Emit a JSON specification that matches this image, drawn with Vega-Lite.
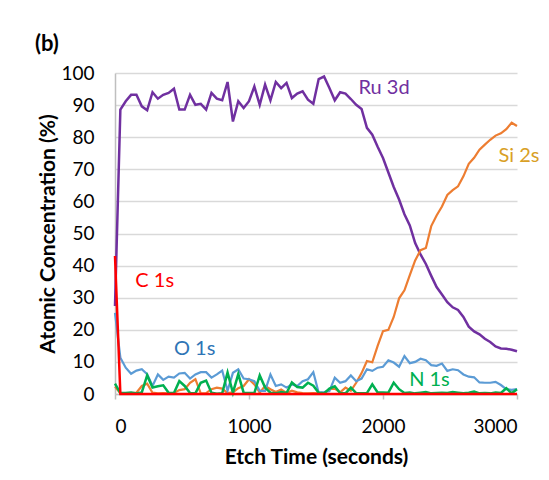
{
  "$schema": "https://vega.github.io/schema/vega-lite/v6.json",
  "autosize": "none",
  "width": 402,
  "height": 321,
  "padding": {"left": 115, "top": 73, "right": 32, "bottom": 86},
  "background": "white",
  "title": {"text": "(b)", "anchor": "start", "fontSize": 22, "fontWeight": "bold", "font": "Lato", "color": "#000000", "dx": -3, "offset": 8},
  "datasets": {
    "xps": [
      {"t":0,"ru":27.4,"si":2.3,"o":25.3,"n":3.2,"c":43},
      {"t":40,"ru":88.6,"si":0.2,"o":11.3,"n":0.3,"c":0},
      {"t":80,"ru":91.2,"si":0.1,"o":8.2,"n":0.3,"c":0},
      {"t":120,"ru":93.2,"si":0.3,"o":6.3,"n":0.5,"c":0},
      {"t":160,"ru":93.2,"si":0.4,"o":7.3,"n":0.2,"c":0},
      {"t":200,"ru":89.6,"si":2.5,"o":7.7,"n":0.5,"c":0},
      {"t":240,"ru":88.4,"si":3.2,"o":6.2,"n":5.8,"c":0},
      {"t":280,"ru":94,"si":0.4,"o":2.5,"n":2,"c":0},
      {"t":320,"ru":92,"si":0.2,"o":6.1,"n":2.4,"c":0},
      {"t":360,"ru":93.2,"si":0.3,"o":4.4,"n":2.7,"c":0},
      {"t":400,"ru":93.8,"si":0.2,"o":5.4,"n":0.4,"c":0},
      {"t":440,"ru":95.1,"si":0.3,"o":5.1,"n":0.3,"c":0},
      {"t":480,"ru":88.6,"si":1.2,"o":6.4,"n":4,"c":0},
      {"t":520,"ru":88.6,"si":1.5,"o":6.6,"n":2.5,"c":0},
      {"t":560,"ru":93.2,"si":3.5,"o":4.8,"n":0.3,"c":0},
      {"t":600,"ru":90.1,"si":4.6,"o":6.1,"n":0.2,"c":0},
      {"t":640,"ru":90.4,"si":0.2,"o":6.8,"n":3.5,"c":0},
      {"t":680,"ru":88.6,"si":0.3,"o":6.8,"n":4.2,"c":0},
      {"t":720,"ru":93.8,"si":1.5,"o":5.1,"n":0.4,"c":0},
      {"t":760,"ru":92,"si":2,"o":6.1,"n":0.1,"c":0},
      {"t":800,"ru":91.5,"si":1.7,"o":7.3,"n":0.2,"c":0},
      {"t":840,"ru":97.2,"si":0.3,"o":1,"n":6.7,"c":0},
      {"t":880,"ru":84.9,"si":0.5,"o":6.6,"n":0.4,"c":0},
      {"t":920,"ru":91.2,"si":1.8,"o":7.7,"n":6.2,"c":0},
      {"t":960,"ru":89.1,"si":2.5,"o":4.8,"n":0.4,"c":0},
      {"t":1000,"ru":91.2,"si":4.6,"o":4.6,"n":0.3,"c":0},
      {"t":1040,"ru":95.8,"si":3,"o":4,"n":0.3,"c":0},
      {"t":1080,"ru":90.1,"si":0.4,"o":1,"n":5.8,"c":0},
      {"t":1120,"ru":96.4,"si":2.5,"o":1,"n":2,"c":0},
      {"t":1160,"ru":91.5,"si":1.5,"o":6.1,"n":0.4,"c":0},
      {"t":1200,"ru":97.2,"si":0.6,"o":2.5,"n":0.2,"c":0},
      {"t":1240,"ru":95.3,"si":1.4,"o":3,"n":0.6,"c":0},
      {"t":1280,"ru":96.9,"si":0.3,"o":2,"n":0.3,"c":0},
      {"t":1320,"ru":92.2,"si":1,"o":3,"n":3.6,"c":0},
      {"t":1360,"ru":93.6,"si":0.5,"o":2.5,"n":2.2,"c":0},
      {"t":1400,"ru":94.3,"si":0.3,"o":4,"n":2,"c":0},
      {"t":1440,"ru":91.7,"si":0.2,"o":4.6,"n":3.5,"c":0},
      {"t":1480,"ru":90.4,"si":0.3,"o":6.8,"n":2.6,"c":0},
      {"t":1520,"ru":98.1,"si":0.2,"o":0.4,"n":0.4,"c":0},
      {"t":1560,"ru":98.9,"si":0.3,"o":0.6,"n":0.2,"c":0},
      {"t":1600,"ru":95.3,"si":1.5,"o":0.9,"n":1.7,"c":0},
      {"t":1640,"ru":91.5,"si":1.7,"o":5.1,"n":2.4,"c":0},
      {"t":1680,"ru":94,"si":0.5,"o":3.5,"n":0.3,"c":0},
      {"t":1720,"ru":93.6,"si":2,"o":4,"n":0.2,"c":0},
      {"t":1760,"ru":91.9,"si":1,"o":5.8,"n":2,"c":0},
      {"t":1800,"ru":90.1,"si":3.5,"o":4,"n":0.3,"c":0},
      {"t":1840,"ru":88.8,"si":6.5,"o":4.8,"n":0.2,"c":0},
      {"t":1880,"ru":82.9,"si":10.3,"o":7.7,"n":0.3,"c":0},
      {"t":1920,"ru":80.8,"si":9.9,"o":7.2,"n":3,"c":0},
      {"t":1960,"ru":77,"si":15,"o":8.2,"n":0.5,"c":0},
      {"t":2000,"ru":73.5,"si":19.6,"o":8.5,"n":0.5,"c":0},
      {"t":2040,"ru":69,"si":20,"o":10.5,"n":0.4,"c":0},
      {"t":2080,"ru":64.5,"si":24,"o":9.8,"n":3.5,"c":0},
      {"t":2120,"ru":60.6,"si":29.8,"o":8.5,"n":1.5,"c":0},
      {"t":2160,"ru":56,"si":32.3,"o":11.8,"n":0.3,"c":0},
      {"t":2200,"ru":52.5,"si":37,"o":9.6,"n":0.5,"c":0},
      {"t":2240,"ru":47,"si":41.6,"o":10,"n":0.2,"c":0},
      {"t":2280,"ru":43.5,"si":44.8,"o":11,"n":0.4,"c":0},
      {"t":2320,"ru":40.5,"si":45.5,"o":10.5,"n":0.6,"c":0},
      {"t":2360,"ru":36.8,"si":52.3,"o":9,"n":0.2,"c":0},
      {"t":2400,"ru":33.3,"si":55.6,"o":8.8,"n":0.3,"c":0},
      {"t":2440,"ru":31,"si":58.4,"o":9.5,"n":0.4,"c":0},
      {"t":2480,"ru":28.6,"si":62,"o":7.2,"n":0.3,"c":0},
      {"t":2520,"ru":27,"si":63.5,"o":7.7,"n":0.6,"c":0},
      {"t":2560,"ru":26.2,"si":64.7,"o":7.4,"n":0.4,"c":0},
      {"t":2600,"ru":24,"si":67.8,"o":6.1,"n":0.2,"c":0},
      {"t":2640,"ru":21,"si":71.7,"o":5.4,"n":0.4,"c":0},
      {"t":2680,"ru":19.5,"si":73.6,"o":5.2,"n":0.8,"c":0},
      {"t":2720,"ru":18.6,"si":76.1,"o":3.6,"n":0.2,"c":0},
      {"t":2760,"ru":17.2,"si":77.7,"o":3.5,"n":0.3,"c":0},
      {"t":2800,"ru":16.2,"si":79.2,"o":3.5,"n":0.2,"c":0},
      {"t":2840,"ru":14.8,"si":80.5,"o":3.8,"n":0.5,"c":0},
      {"t":2880,"ru":14.2,"si":81.2,"o":2.8,"n":0.3,"c":0},
      {"t":2920,"ru":14.1,"si":82.5,"o":1.5,"n":1.8,"c":0},
      {"t":2960,"ru":13.8,"si":84.5,"o":1.3,"n":0.2,"c":0},
      {"t":3000,"ru":13.3,"si":83.5,"o":1.5,"n":1.5,"c":0}
    ],
    "labels": [
      {"t":1817,"v":95.4,"label":"Ru 3d"},
      {"t":2862,"v":74,"label":"Si 2s"},
      {"t":152,"v":35.2,"label":"C 1s"},
      {"t":440,"v":14.1,"label":"O 1s"},
      {"t":2195,"v":4.3,"label":"N 1s"}
    ]
  },
  "data": {"name": "xps"},
  "encoding": {
    "x": {
      "field": "t", "type": "quantitative", "title": "Etch Time (seconds)",
      "scale": {"domain": [0, 3000], "nice": false, "zero": false},
      "axis": {"values": [0, 1000, 2000, 3000], "format": "d", "grid": false, "tickSize": 5, "labelPadding": 18, "titlePadding": 10}
    }
  },
  "layer": [
    {"mark": {"type": "line", "color": "#7030A0", "strokeWidth": 2.5},
     "encoding": {"y": {"field": "ru", "type": "quantitative", "title": "Atomic Concentration (%)", "scale": {"domain": [0, 100], "nice": false}}}},
    {"mark": {"type": "line", "color": "#ED7D31", "strokeWidth": 2.2},
     "encoding": {"y": {"field": "si", "type": "quantitative", "title": "Atomic Concentration (%)"}}},
    {"mark": {"type": "line", "color": "#5B9BD5", "strokeWidth": 2.2},
     "encoding": {"y": {"field": "o", "type": "quantitative", "title": "Atomic Concentration (%)"}}},
    {"mark": {"type": "line", "color": "#00B050", "strokeWidth": 2.5},
     "encoding": {"y": {"field": "n", "type": "quantitative", "title": "Atomic Concentration (%)"}}},
    {"mark": {"type": "line", "color": "#FF0000", "strokeWidth": 2.5},
     "encoding": {"y": {"field": "c", "type": "quantitative", "title": "Atomic Concentration (%)"}}},
    {"data": {"name": "labels"},
     "mark": {"type": "text", "align": "left", "baseline": "middle", "fontSize": 20, "font": "Lato"},
     "encoding": {
       "y": {"field": "v", "type": "quantitative", "title": "Atomic Concentration (%)"},
       "text": {"field": "label"},
       "color": {"field": "label", "type": "nominal", "legend": null,
         "scale": {"domain": ["Ru 3d", "Si 2s", "C 1s", "O 1s", "N 1s"], "range": ["#7030A0", "#D9A026", "#FF0000", "#2E75B6", "#00B050"]}}
     }}
  ],
  "config": {
    "view": {"stroke": null},
    "font": "Lato",
    "axis": {"labelFont": "Lato", "titleFont": "Lato", "labelColor": "#000000", "titleColor": "#000000", "labelFontSize": 19, "titleFontSize": 21, "titleFontWeight": "bold", "domainColor": "#BFBFBF", "tickColor": "#BFBFBF", "domainWidth": 1.5, "tickWidth": 1.5},
    "axisY": {"values": [0,10,20,30,40,50,60,70,80,90,100], "grid": true, "gridColor": "#D9D9D9", "gridWidth": 1.5, "ticks": false, "tickSize": 0, "labelPadding": 21, "titlePadding": 2}
  }
}
